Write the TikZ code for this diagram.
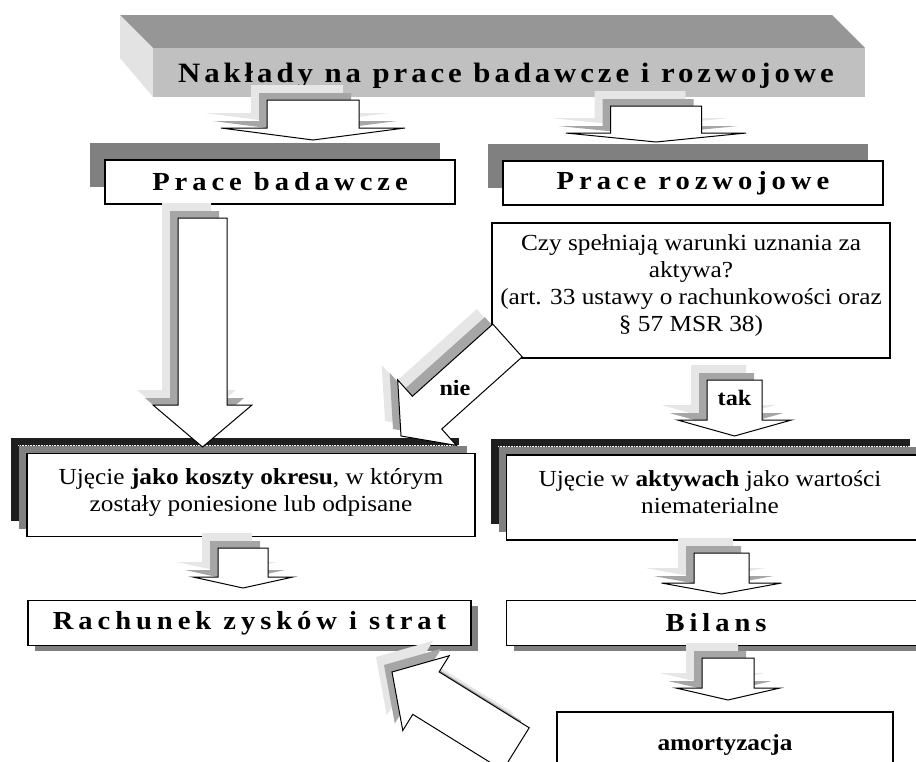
\documentclass[tikz,border=0pt]{standalone}
\usepackage{fontspec}
\setmainfont{Liberation Serif}[FakeStretch=1.1]
\usetikzlibrary{positioning, calc, shadows}
\definecolor{Cien}{HTML}{808080}
\definecolor{Czern}{HTML}{1E1E1E}
\definecolor{Kropki}{HTML}{A6A6A6}
\definecolor{Mgla}{HTML}{E6E6E6}
\definecolor{Gora}{HTML}{969696}
\definecolor{Front}{HTML}{C0C0C0}
\definecolor{Bok}{HTML}{E3E3E3}
\tikzset{
    ramka/.style={rectangle, draw=black, line width=1.1pt, fill=white, align=center, inner sep=0pt},
    naglowek/.style={ramka, font=\bfseries\fontsize{26}{28}\selectfont\addfontfeature{LetterSpace=#1}},
    naglowek/.default=19,
    opis/.style={ramka},
    tresc/.style={align=center, inner sep=0pt, font=\fontsize{23}{27}\selectfont},
    cienlewy/.style={general shadow={fill=Cien, shadow xshift=-15pt, shadow yshift=17pt}},
    cienpodwojny/.style={general shadow={fill=Czern, shadow xshift=-16pt, shadow yshift=16pt},
                         general shadow={fill=Cien, shadow xshift=-8pt, shadow yshift=8pt}},
    cienprawy/.style={general shadow={fill=Cien, shadow xshift=7pt, shadow yshift=-5pt}},
    blok/.style={draw=black, line width=1pt, fill=white},
    napis/.style={font=\bfseries\fontsize{22}{24}\selectfont},
}
% strzalka blokowa: ogon, grot, pol szerokosci trzonu, pol szerokosci grotu, dlugosc grotu
\newcommand{\blokowa}[5]{%
    \coordinate (o) at (#1);
    \coordinate (g) at (#2);
    \coordinate (b) at ($(g)!#5!(o)$);
    \coordinate (o1) at ($(o)!#3!90:(g)$);
    \coordinate (o2) at ($(o)!#3!-90:(g)$);
    \coordinate (b1) at ($(b)!#3!90:(g)$);
    \coordinate (b2) at ($(b)!#3!-90:(g)$);
    \coordinate (h1) at ($(b)!#4!90:(g)$);
    \coordinate (h2) at ($(b)!#4!-90:(g)$);
    \fill[Mgla, transform canvas={shift={(-16pt,15pt)}}] (o1) -- (b1) -- (h1) -- (g) -- (h2) -- (b2) -- (o2) -- cycle;
    \fill[Kropki, transform canvas={shift={(-8pt,7pt)}}] (o1) -- (b1) -- (h1) -- (g) -- (h2) -- (b2) -- (o2) -- cycle;
    \draw[blok] (o1) -- (b1) -- (h1) -- (g) -- (h2) -- (b2) -- (o2) -- cycle;
}

\begin{document}
\begin{tikzpicture}[x=1pt, y=-1pt]
    \useasboundingbox (0,0) rectangle (916,761);
    \clip (0,0) rectangle (916,761);

    % Belka tytulowa
    \fill[Gora] (120,15) -- (832,15) -- (865,48) -- (153,48) -- cycle;
    \fill[Bok] (120,15) -- (153,48) -- (153,97) -- (120,58) -- cycle;
    \fill[Front] (153,48) rectangle (865,97);
    \node[anchor=base, inner sep=0pt, font=\bfseries\fontsize{28}{30}\selectfont\addfontfeature{LetterSpace=14}] (naklady) at (506,82) {Nakłady na prace badawcze i rozwojowe};

    % Prace
    \node[naglowek, cienlewy, minimum width=350pt, minimum height=44pt] (badawcze) at (280,182) {Prace badawcze};
    \node[naglowek, cienlewy, minimum width=380pt, minimum height=44pt] (rozwojowe) at (693,183) {Prace rozwojowe};

    % Pytanie
    \node[opis, minimum width=398pt, minimum height=135pt] (warunki) at (691,290.5) {};
    \node[tresc] (warunkitekst) at ($(warunki.center)+(0,-5)$) {Czy spełniają warunki uznania za\\ aktywa?\\ (art. 33 ustawy o rachunkowości oraz\\ § 57 MSR 38)};

    % Ujecie
    \node[opis, cienpodwojny, minimum width=448pt, minimum height=83pt] (koszty) at (251,495) {};
    \node[tresc] (kosztytekst) at ($(koszty.center)+(0,-3)$) {Ujęcie \textbf{jako koszty okresu}, w którym\\ zostały poniesione lub odpisane};
    \node[opis, cienpodwojny, minimum width=419pt, minimum height=85pt] (aktywa) at (716,497.5) {};
    \node[tresc] (aktywatekst) at ($(aktywa.center)+(-6,-5)$) {Ujęcie w \textbf{aktywach} jako wartości\\ niematerialne};
    \draw[white, densely dotted, line width=0.6pt] ($(koszty.north west)+(-8,-8)$) -- ($(koszty.north east)+(-8,-8)$);
    \draw[white, densely dotted, line width=0.6pt] ($(aktywa.north west)+(-8,-8)$) -- ($(aktywa.north east)+(-8,-8)$);

    % Sprawozdania
    \node[naglowek, cienprawy, minimum width=443pt, minimum height=45pt] (wynik) at (249.5,623) {Rachunek zysków i strat};
    \node[naglowek, cienprawy, minimum width=419pt, minimum height=45pt] (bilans) at (716,623) {Bilans};
    \node[ramka, font=\bfseries\fontsize{23}{25}\selectfont, minimum width=336pt, minimum height=66pt] (amort) at (725,745) {amortyzacja};

    % Strzalki
    \blokowa{313,100}{313,140}{46pt}{92pt}{12pt}
    \blokowa{656,106}{656,142}{45.5pt}{90pt}{9pt}
    \blokowa{202.5,218}{202.5,447}{24.5pt}{49.5pt}{42pt}
    \blokowa{507.5,340.5}{401,436}{22pt}{44pt}{35pt}
    \blokowa{734.5,380}{734.5,436}{27.5pt}{57pt}{16pt}
    \blokowa{243,548}{243,588}{25pt}{50pt}{11pt}
    \blokowa{721.5,553}{721.5,594}{27.5pt}{60pt}{11pt}
    \blokowa{728,658}{728,700}{26pt}{52pt}{12pt}
    \blokowa{516,749}{392,672}{25pt}{44pt}{40pt}

    \node[napis] (nie) at (455,388) {nie};
    \node[napis] (tak) at (734.5,398) {tak};
\end{tikzpicture}
\end{document}
